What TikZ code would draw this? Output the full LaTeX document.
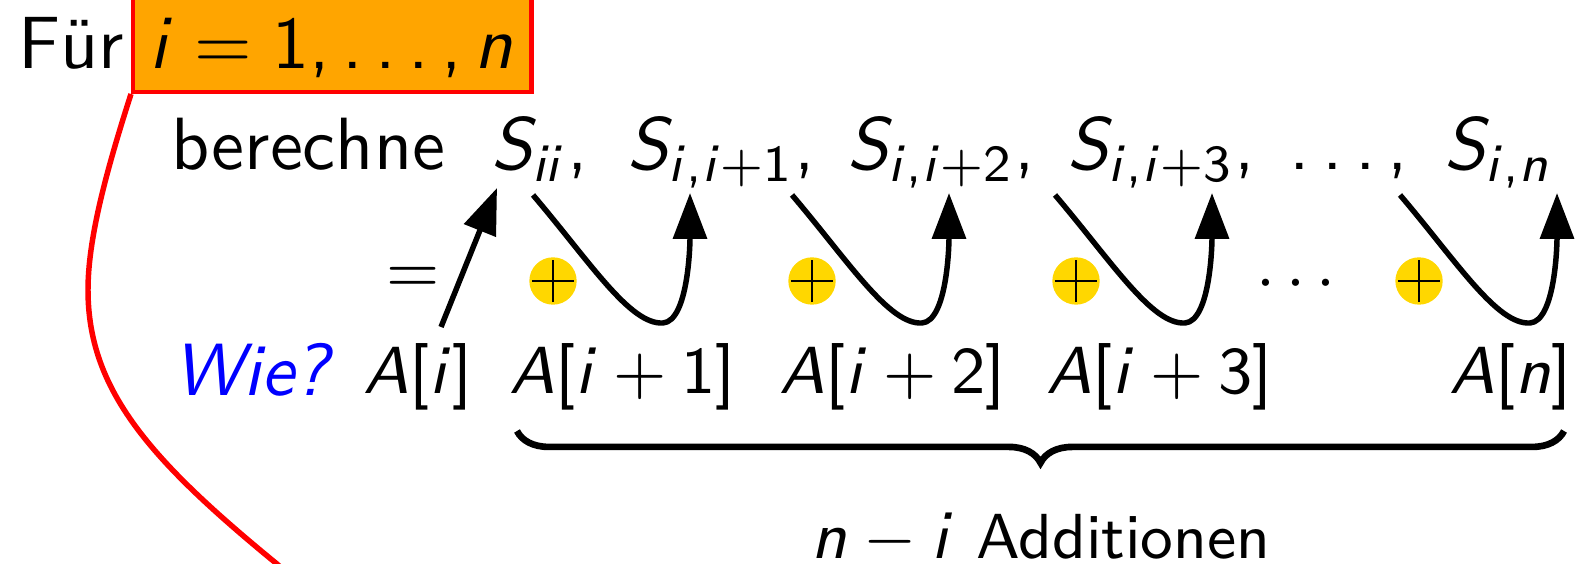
\documentclass[tikz,border=0pt]{standalone}
\usetikzlibrary{arrows.meta,decorations.pathreplacing}
\DeclareMathVersion{sfm}
\SetSymbolFont{operators}{sfm}{OT1}{cmss}{m}{n}
\SetSymbolFont{letters}{sfm}{OT1}{cmss}{m}{sl}
\SetSymbolFont{symbols}{sfm}{OMS}{cmsy}{m}{n}
\SetSymbolFont{largesymbols}{sfm}{OMX}{cmex}{m}{n}
\mathcode`\,="602C
\DeclareMathSymbol{\ldotp}{\mathpunct}{operators}{"2E}
\definecolor{boxorange}{RGB}{255,165,0}
\definecolor{plusgold}{RGB}{255,215,0}
\newcommand{\smallsz}{\fontsize{8.6}{10}\selectfont}
\tikzset{
  txt/.style={anchor=base west, inner sep=0pt},
  smalltxt/.style={anchor=base west, inner sep=0pt, font=\sffamily\mathversion{sfm}\smallsz},
  rangebox/.style={draw=red, fill=boxorange, line width=0.6pt, anchor=south west,
    minimum width=53.8pt, minimum height=16pt, inner sep=0pt},
  addc/.style={circle, fill=plusgold, minimum size=6.4pt, inner sep=0pt,
    path picture={
      \draw[line width=0.35pt] ([xshift=-2.85pt]path picture bounding box.center) -- ([xshift=2.85pt]path picture bounding box.center);
      \draw[line width=0.35pt] ([yshift=-2.85pt]path picture bounding box.center) -- ([yshift=2.85pt]path picture bounding box.center);
    }},
  arr/.style={line width=0.74pt, -{Triangle[length=6.2pt,width=4.5pt]}},
  redline/.style={draw=red, line width=0.74pt},
  bracest/.style={decorate, decoration={brace, amplitude=4.3pt, mirror}, line width=0.9pt}
}
\begin{document}
\begin{tikzpicture}[x=0.1351pt, y=-0.1351pt, font=\sffamily\mathversion{sfm}]
\useasboundingbox (0,0) rectangle (1580,564);
% top line
\node[txt] (fuer) at (17,69) {Für};
\node[rangebox] (box) at (131,94) {};
\node[txt] (range) at (148,69) {$i=1,\ldots,n$};
% red curve
\draw[redline] (box.south west) .. controls (105,175) and (88,240) .. (88,290)
  .. controls (88,390) and (150,460) .. (277,564) -- (300,585);
% second line
\node[txt] (ber) at (170,170) {berechne};
\node[txt] (s1) at (490,170) {$S_{ii},$};
\node[txt] (s2) at (626,170) {$S_{i,i+1},$};
\node[txt] (s3) at (846,170) {$S_{i,i+2},$};
\node[txt] (s4) at (1066,170) {$S_{i,i+3},$};
\node[txt] (sd) at (1288,170) {$\ldots,$};
\node[txt] (s5) at (1443,170) {$S_{i,n}$};
% middle row
\node[smalltxt, anchor=base] (eq) at (413,293) {$=$};
\node[addc] (p1) at (553,281) {};
\node[addc] (p2) at (812,281) {};
\node[addc] (p3) at (1076,281) {};
\node[addc] (p4) at (1419,281) {};
\node[smalltxt, anchor=base] (cd) at (1296,300) {$\cdots$};
% bottom row
\node[txt, text=blue] (wie) at (172,396) {\textit{Wie?}};
\node[smalltxt] (a1) at (362,394) {$A[i]$};
\node[smalltxt] (a2) at (508,394) {$A[i+1]$};
\node[smalltxt] (a3) at (778,394) {$A[i+2]$};
\node[smalltxt] (a4) at (1045,394) {$A[i+3]$};
\node[smalltxt] (a5) at (1448,394) {$A[n]$};
% arrows
\coordinate (u0) at (441,327);
\coordinate (v0) at (497,188);
\draw[arr] (u0) -- (v0);
\foreach \x [count=\k] in {533,792,1055,1400}{
  \coordinate (c\k s) at (\x,195);
  \coordinate (c\k b) at (\x+130,323);
  \coordinate (c\k t) at (\x+157,193);
  \draw[arr] (c\k s) .. controls +(57,67) and +(-33,2) .. (c\k b)
     .. controls +(25,-2) and +(0,53) .. (c\k t);
}
% brace
\coordinate (bl) at (517,431);
\coordinate (br) at (1564,431);
\draw[bracest] (bl) -- (br);
\node[smalltxt, anchor=base] (lbl) at (1041,558) {$n-i$ Additionen};
\end{tikzpicture}
\end{document}
